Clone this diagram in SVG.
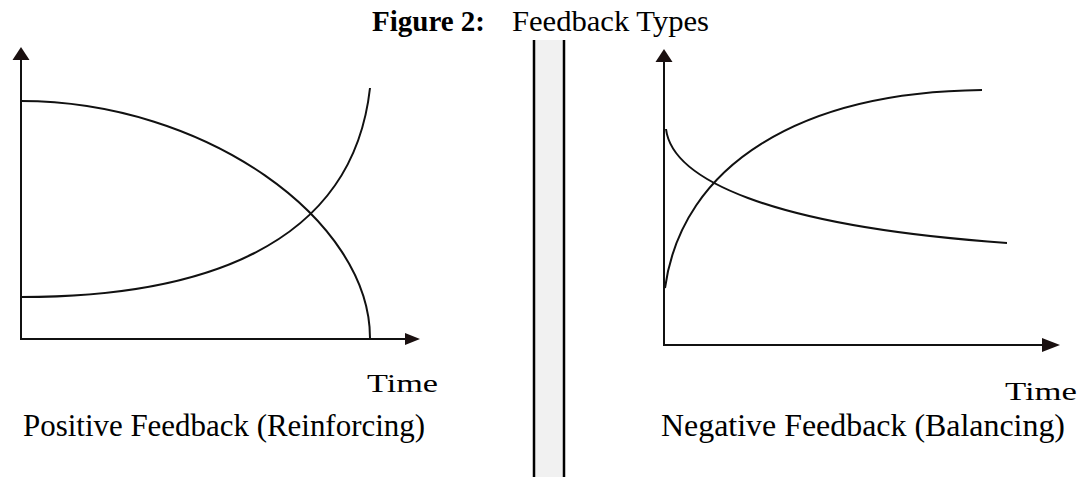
<svg xmlns="http://www.w3.org/2000/svg" width="1082" height="477" viewBox="0 0 1082 477">
<style>
.ax{stroke:#111;stroke-width:2;fill:none}
.cv{stroke:#111;stroke-width:2;fill:none}
.ah{fill:#1a1010}
.t{font-family:"Liberation Serif","Times New Roman",serif;fill:#000}
</style>
<rect width="1082" height="477" fill="#fff"/>
<g id="title">
<text class="t" x="372" y="31" font-size="30" font-weight="bold" textLength="113" lengthAdjust="spacingAndGlyphs">Figure 2:</text>
<text class="t" x="512" y="31" font-size="30" textLength="197" lengthAdjust="spacingAndGlyphs">Feedback Types</text>
</g>
<g id="divider">
<rect x="533" y="40" width="32" height="437" fill="#f1f1f1"/>
<line x1="534" y1="40" x2="534" y2="477" stroke="#000" stroke-width="2.5"/>
<line x1="564" y1="40" x2="564" y2="477" stroke="#000" stroke-width="2.5"/>
</g>
<g id="positive-chart">
<line class="ax" x1="21" y1="58" x2="21" y2="340"/>
<polygon class="ah" points="21,47 12.5,60 29.5,60"/>
<line class="ax" x1="20" y1="339" x2="408" y2="339"/>
<polygon class="ah" points="420,339 405,333 405,345"/>
<path class="cv" d="M21,101 C205,101 371,220 370,339"/>
<path class="cv" d="M21,297 C195,297 352,250 370,88"/>
<text class="t" x="367" y="392" font-size="25" textLength="71" lengthAdjust="spacingAndGlyphs">Time</text>
<text class="t" x="23" y="436" font-size="31" textLength="402" lengthAdjust="spacingAndGlyphs">Positive Feedback (Reinforcing)</text>
</g>
<g id="negative-chart">
<line class="ax" x1="664" y1="60" x2="664" y2="346"/>
<polygon class="ah" points="664,49 655.5,62 672.5,62"/>
<line class="ax" x1="663" y1="345" x2="1045" y2="345"/>
<polygon class="ah" points="1060,345 1042,338 1042,352"/>
<path class="cv" d="M665,288 C682,165 800,92 982,90"/>
<path class="cv" d="M666,129 C672,178 765,226 1007,243"/>
<text class="t" x="1005" y="400" font-size="25" textLength="72" lengthAdjust="spacingAndGlyphs">Time</text>
<text class="t" x="661" y="436" font-size="31" textLength="404" lengthAdjust="spacingAndGlyphs">Negative Feedback (Balancing)</text>
</g>
</svg>
